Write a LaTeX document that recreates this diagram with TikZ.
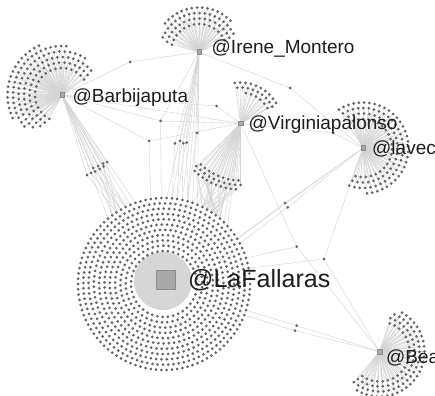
\documentclass[tikz,border=0pt]{standalone}
\usepackage{fontspec}
\setmainfont{Liberation Sans}
\usetikzlibrary{calc}
\definecolor{dotc}{RGB}{100,100,100}
\definecolor{edgec}{RGB}{212,212,212}
\definecolor{hubc}{RGB}{168,168,168}
\definecolor{hubb}{RGB}{140,140,140}
\definecolor{innerc}{RGB}{214,214,214}
\definecolor{labc}{RGB}{30,30,30}
\newif\iffandots
% #1 centre hub, #2 name prefix, #3 ring id, #4 radius, #5 start angle, #6 end angle, #7 also link to LaFallaras (1/0)
\newcommand{\fanring}[7]{%
  \pgfmathsetmacro{\fanlen}{#4*pi/180*abs(#6-#5)}%
  \pgfmathtruncatemacro{\fann}{max(1,round(\fanlen/5.3))}%
  \foreach \k in {0,...,\fann}{%
    \iffandots
      \node[dot] at (#2-#3-\k) {};%
    \else
      \pgfmathsetmacro{\fanang}{#5+(#6-#5)/\fann*\k}%
      \coordinate (#2-#3-\k) at ($(#1)+(\fanang:#4)$);%
      \draw[edge] (#1) -- (#2-#3-\k);%
      \ifnum#7=1\relax
        \pgfmathtruncatemacro{\kk}{84+mod(\k+#3,5)}%
        \draw[edge] (#2-#3-\k) -- (lfd-10-\kk);%
      \fi
    \fi
  }%
}
\newcommand{\diskrings}{%
  \foreach \r/\ri in {33/0,38.3/1,43.6/2,48.9/3,54.2/4,59.5/5,64.8/6,70.1/7,75.4/8,80.7/9,86/10}{%
    \pgfmathtruncatemacro{\dn}{round(2*pi*\r/5.3)}%
    \pgfmathtruncatemacro{\dm}{\dn-1}%
    \pgfmathsetmacro{\dstep}{360/\dn}%
    \pgfmathsetmacro{\doff}{\ri==10 ? 0 : \ri*13}%
    \foreach \k in {0,...,\dm}{%
      \iffandots
        \node[dot] at (lfd-\ri-\k) {};%
      \else
        \pgfmathsetmacro{\dang}{\doff+\dstep*\k}%
        \coordinate (lfd-\ri-\k) at ($(lfc)+(\dang:\r)$);%
      \fi
    }%
  }%
}
\newcommand{\allfans}{%
\fanring{bj}{bj}{0}{27}{-242}{-35}{0}%
\fanring{bj}{bj}{1}{32.5}{-238}{-38}{0}%
\fanring{bj}{bj}{2}{38}{-235}{-40}{0}%
\fanring{bj}{bj}{3}{43.5}{-228}{-58}{0}%
\fanring{bj}{bj}{4}{49}{-220}{-85}{0}%
\fanring{bj}{bj}{5}{54.5}{-205}{-115}{0}%
\fanring{im}{im}{0}{28}{-165}{-25}{0}%
\fanring{im}{im}{1}{33.5}{-162}{-25}{0}%
\fanring{im}{im}{2}{39}{-158}{-28}{0}%
\fanring{im}{im}{3}{44.5}{-140}{-45}{0}%
\fanring{vp}{vp}{0}{31}{-80}{-30}{0}%
\fanring{vp}{vp}{1}{36}{-95}{-28}{0}%
\fanring{vp}{vp}{2}{41}{-98}{-30}{0}%
\fanring{vp}{vpb}{0}{57}{92}{134}{1}%
\fanring{vp}{vpb}{1}{61.5}{90}{136}{1}%
\fanring{vp}{vpb}{2}{66}{94}{134}{1}%
\fanring{lv}{lv}{0}{29}{-110}{105}{0}%
\fanring{lv}{lv}{1}{34.5}{-115}{108}{0}%
\fanring{lv}{lv}{2}{40}{-120}{110}{0}%
\fanring{lv}{lv}{3}{45.5}{-122}{85}{0}%
\fanring{be}{be}{0}{30}{-70}{125}{0}%
\fanring{be}{be}{1}{35}{-72}{128}{0}%
\fanring{be}{be}{2}{40}{-68}{130}{0}%
\fanring{be}{be}{3}{45}{-60}{120}{0}%
}
\begin{document}
\begin{tikzpicture}[x=1pt,y=-1pt,
  dot/.style={circle,fill=dotc,inner sep=0pt,minimum size=3pt},
  edge/.style={draw=edgec,line width=0.4pt},
  hub/.style={rectangle,fill=hubc,draw=hubb,line width=0.5pt,inner sep=0pt,minimum size=4.5pt},
  lab/.style={anchor=base west,inner sep=0pt,text=labc,font=\fontsize{19}{19}\selectfont},
  biglab/.style={anchor=base west,inner sep=0pt,text=labc,font=\fontsize{25}{25}\selectfont}]
\fill[white] (0,0) rectangle (435,395);
\useasboundingbox (0,0) rectangle (435,395);
\fill[innerc] (163,281) circle[radius=29];

% hub positions
\coordinate (lfc) at (164,284);
\coordinate (lf) at (166,280);
\coordinate (bj) at (62,95);
\coordinate (im) at (199,52);
\coordinate (vp) at (240.5,123.5);
\coordinate (lv) at (363,148);
\coordinate (be) at (379.5,351.5);

% intermediate accounts
\coordinate (a) at (130,62);
\coordinate (b) at (290,88);
\coordinate (c) at (216.5,106);
\coordinate (d) at (160.5,121);
\coordinate (e) at (197,133);
\coordinate (f) at (149,141);
\coordinate (g) at (333,133);
\coordinate (h1) at (285,203);
\coordinate (h2) at (287.7,207.3);
\coordinate (i) at (296.7,246.7);
\coordinate (j) at (324,259);
\coordinate (k1) at (296.7,325.7);
\coordinate (k2) at (295,330.7);
\foreach \px/\py [count=\n] in {175/143.3,180/141,183.3/143.3,186.7/142.7}
  \coordinate (sc\n) at (\px,\py);
\foreach \px/\py [count=\n] in {87/175,91/173,95/171.5,99.5/169,103.5/166.5,93/168,98/166,103/163.5,107/162}
  \coordinate (cl\n) at (\px,\py);

% pass 1: positions and connectors
\fandotsfalse
\diskrings
\allfans
\draw[edge] (bj) -- (a) -- (im);
\draw[edge] (im) -- (b) -- (lv);
\draw[edge] (bj) -- (c) -- (vp);
\draw[edge] (bj) -- (d) -- (vp);
\draw[edge] (d) -- (lfd-10-76);
\draw[edge] (im) -- (d);
\draw[edge] (im) -- (e) -- (lfd-10-81);
\draw[edge] (bj) -- (f) -- (vp);
\draw[edge] (f) -- (lfd-10-74);
\draw[edge] (vp) -- (g) -- (lv);
\draw[edge] (bj) -- (vp);
\draw[edge] (lv) -- (h1) -- (lfd-10-93);
\draw[edge] (lv) -- (h2) -- (lfd-10-94);
\draw[edge] (lv) -- (lfd-10-93);
\draw[edge] (vp) -- (i) -- (be);
\draw[edge] (i) -- (lfd-10-97);
\draw[edge] (lv) -- (j) -- (be);
\draw[edge] (j) -- (lfd-10-99);
\draw[edge] (lfd-10-5) -- (k1) -- (be);
\draw[edge] (lfd-10-6) -- (k2) -- (be);
\foreach \k in {65,...,71} \draw[edge] (bj) -- (lfd-10-\k);
\foreach \k in {77,...,83} \draw[edge] (im) -- (lfd-10-\k);
\foreach \k in {82,...,90} \draw[edge] (vp) -- (lfd-10-\k);
\foreach \n/\k in {1/78,2/79,3/80,4/81} \draw[edge] (im) -- (sc\n) -- (lfd-10-\k);
\foreach \n in {1,...,9}{
  \pgfmathtruncatemacro{\k}{66+mod(\n,4)}
  \draw[edge] (bj) -- (cl\n) -- (lfd-10-\k);
}

% pass 2: dots
\fandotstrue
\diskrings
\allfans
\foreach \n in {a,b,c,d,e,f,g,h1,h2,i,j,k1,k2,sc1,sc2,sc3,sc4,cl1,cl2,cl3,cl4,cl5,cl6,cl7,cl8,cl9}
  \node[dot] at (\n) {};

% hubs
\node[hub,minimum size=19pt,line width=0.7pt] (lfhub) at (lf) {};
\node[hub] (bjhub) at (bj) {};
\node[hub] (imhub) at (im) {};
\node[hub] (vphub) at (vp) {};
\node[hub] (lvhub) at (lv) {};
\node[hub] (behub) at (be) {};

% labels
\node[lab] (bjl) at (72.5,103) {@Barbijaputa};
\node[lab] (iml) at (211.5,53.5) {@Irene\_Montero};
\node[lab] (vpl) at (248.5,130) {@Virginiapalonso};
\node[lab] (lvl) at (372,154.5) {@lavec};
\node[lab] (bel) at (386,363) {@Bea};
\node[biglab] (lfl) at (188,287.5) {@LaFallaras};
\end{tikzpicture}
\end{document}
